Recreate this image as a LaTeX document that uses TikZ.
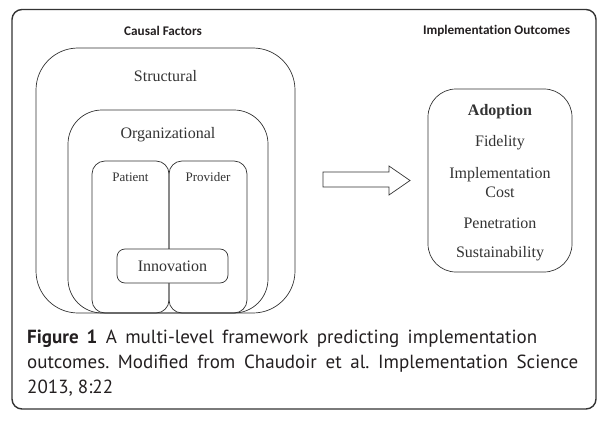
\documentclass[tikz,border=0pt]{standalone}
\usepackage{fontspec}
\setmainfont{Liberation Serif}
\newfontfamily\headfont[Ligatures=NoCommon]{Carlito}
\newfontfamily\capfont{PT Sans}
\usetikzlibrary{positioning}
\definecolor{ink}{HTML}{333333}
\definecolor{capink}{HTML}{231F20}
\frenchspacing
\tikzset{
  level/.style={draw=ink, line width=0.7pt, inner sep=0pt, outer sep=0pt},
  lbl/.style={text=ink, inner sep=0pt, font=\fontsize{16}{19}\selectfont},
  smalllbl/.style={text=ink, inner sep=0pt, font=\fontsize{13}{15}\selectfont},
  head/.style={text=capink, inner sep=0pt, font=\headfont\bfseries\fontsize{13.2}{15}\selectfont},
  capline/.style={text=capink, inner sep=0pt, anchor=base west, font=\capfont\fontsize{19}{25}\selectfont}
}
\begin{document}
\begin{tikzpicture}[x=1pt,y=-1pt]
\useasboundingbox (0,0) rectangle (607,425);

% outer frame
\draw[draw=ink, line width=1.4pt, rounded corners=10pt] (12,9.5) rectangle (596,409);

% headings
\node[head] (causal) at (163,31) {Causal Factors};
\node[head] (outcomes) at (496.5,31) {Implementation Outcomes};

% nested levels
\node[level, rounded corners=42pt, minimum width=259pt, minimum height=265pt] (struct) at (165.5,180.5) {};
\node[level, rounded corners=34pt, minimum width=200pt, minimum height=203pt] (org) at (168,211.5) {};
\node[level, rounded corners=13pt, minimum width=77pt, minimum height=152pt] (patient) at (130.5,237) {};
\node[level, rounded corners=13pt, minimum width=78pt, minimum height=152pt] (provider) at (208,237) {};
\node[level, fill=white, rounded corners=8pt, minimum width=111pt, minimum height=34pt, lbl] (innov) at (172.5,266) {Innovation};

\node[lbl] (structtxt) at ([yshift=-28pt]struct.north) {Structural};
\node[lbl] (orgtxt) at ([yshift=-25pt]org.north) {Organizational};
\node[smalllbl] (patienttxt) at ([yshift=-16pt]patient.north) {Patient};
\node[smalllbl] (providertxt) at ([yshift=-16pt]provider.north) {Provider};

% block arrow
\draw[draw=ink, line width=0.7pt] (323,172) -- (389,172) -- (389,166) -- (410,180.5)
  -- (389,195) -- (389,187) -- (323,187) -- cycle;

% outcomes
\node[level, rounded corners=28pt, minimum width=144pt, minimum height=183pt] (outbox) at (500,180.5) {};
\node[lbl, font=\bfseries\fontsize{16}{19}\selectfont] (adoption) at ([yshift=-23pt]outbox.north) {Adoption};
\node[lbl] (fidelity) at (500,143) {Fidelity};
\node[lbl, align=center] (cost) at (500,182.5) {Implementation\\Cost};
\node[lbl] (penetration) at (500,223) {Penetration};
\node[lbl] (sustain) at (500,254) {Sustainability};

% caption
\node[capline] (cap1) at (27,343) {\makebox[510pt][s]{\textbf{Figure 1} A multi-level framework predicting implementation}};
\node[capline] (cap2) at (27,368) {\makebox[551pt][s]{outcomes. Modified from Chaudoir et al. Implementation Science}};
\node[capline] (cap3) at (27,393) {2013, 8:22};
\end{tikzpicture}
\end{document}
